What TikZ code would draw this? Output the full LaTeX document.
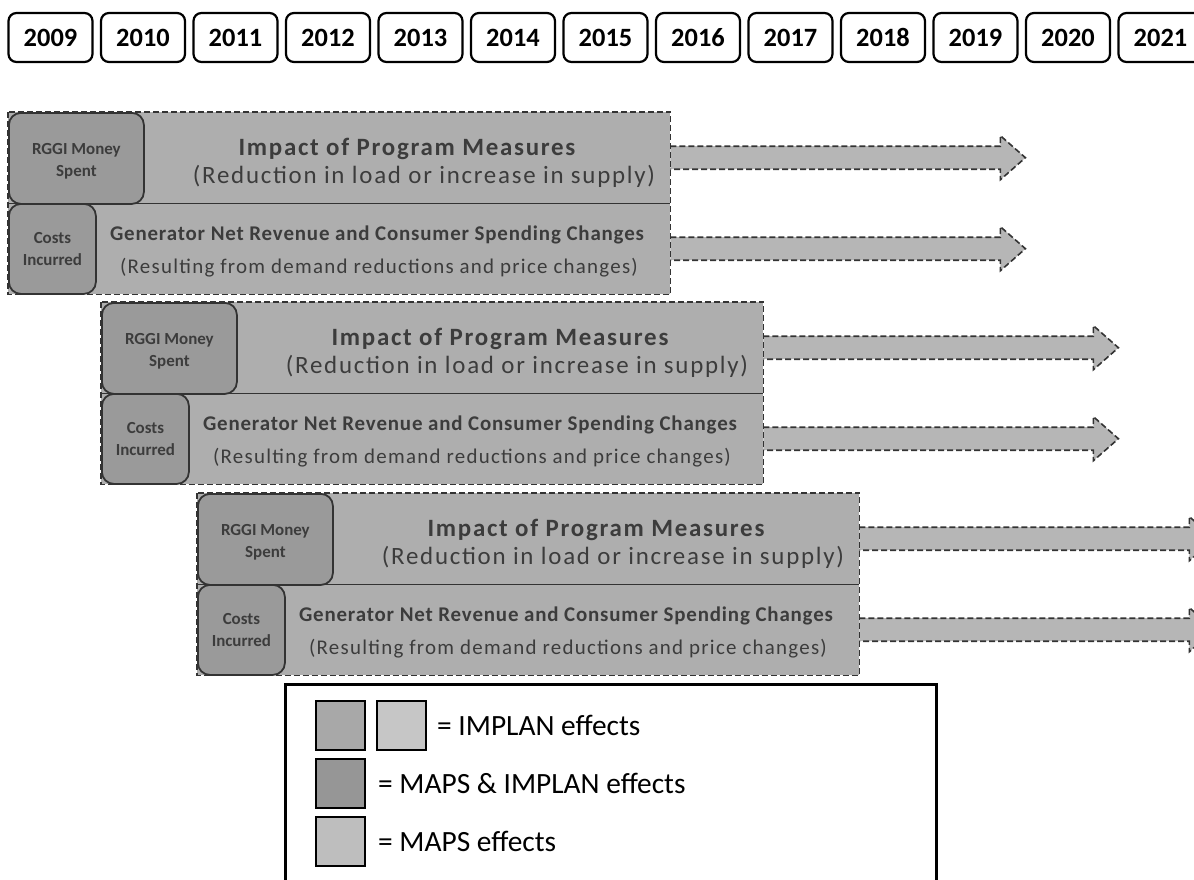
\documentclass[tikz,border=0pt]{standalone}
\usepackage{fontspec}
\setmainfont{Carlito}
\usetikzlibrary{calc}
\definecolor{bandfill}{HTML}{AEAEAE}
\definecolor{boxfill}{HTML}{9A9A9A}
\definecolor{arrowfill}{HTML}{B6B6B6}
\definecolor{edgegray}{HTML}{333333}
\definecolor{txtgray}{HTML}{3C3C3C}
\definecolor{sqA}{HTML}{A8A8A8}
\definecolor{sqB}{HTML}{C6C6C6}
\definecolor{sqC}{HTML}{969696}
\definecolor{sqD}{HTML}{BEBEBE}
\tikzset{
  yearbox/.style={draw, line width=2.2bp, rounded corners=8bp, minimum width=84bp, minimum height=49bp, inner sep=0pt, text height=17bp, text depth=0bp, font=\fontsize{26.5}{30}\selectfont\bfseries},
  rowbox/.style={fill=bandfill, minimum width=662bp, minimum height=91bp, inner sep=0pt, draw=none},
  mbox/.style={draw=edgegray, fill=boxfill, line width=1.8bp, rounded corners=12bp, inner sep=0pt},
  mtext/.style={inner sep=0pt, align=center, text=txtgray, font=\fontsize{17}{22}\selectfont\bfseries},
  bigtitle/.style={inner sep=0pt, text=txtgray, font=\fontsize{25}{28}\selectfont\bfseries\addfontfeature{LetterSpace=7}},
  bigsub/.style={inner sep=0pt, text=txtgray, font=\fontsize{25}{28}\selectfont\addfontfeature{LetterSpace=7}},
  titletext/.style={inner sep=0pt, text=txtgray, font=\fontsize{21}{24}\selectfont\bfseries\addfontfeature{LetterSpace=4}},
  subtext/.style={inner sep=0pt, text=txtgray, font=\fontsize{21}{24}\selectfont\addfontfeature{LetterSpace=6}},
  bandedge/.style={draw=edgegray, dash pattern=on 6bp off 3bp, line width=1.6bp},
  flowarrow/.style={fill=arrowfill, draw=edgegray, dash pattern=on 6bp off 3bp, line width=1.6bp},
  sq/.style={draw, line width=1.6bp, minimum size=49bp, inner sep=0pt},
  legtext/.style={inner sep=0pt, anchor=west, font=\fontsize{29.5}{32}\selectfont},
}
\begin{document}
\begin{tikzpicture}[x=1bp,y=-1bp]
\useasboundingbox (0,0) rectangle (1194,880);
\clip (0,0) rectangle (1194,880);
% year boxes
\foreach \yr [count=\i from 0] in {2009,...,2021} {
  \node[yearbox] (y\yr) at ({50.5+92.5*\i},37.5) {\yr};
}
% bands
\foreach \X/\Y/\n in {8/112/1, 101/302/2, 197/493/3} {
  \node[rowbox, anchor=north west] (t\n) at ({\X},{\Y}) {};
  \node[rowbox, anchor=north west] (b\n) at ({\X},{\Y+91}) {};
  \draw[flowarrow] (t\n.east) ++(0,-11.5) -- ++(330,0) -- ++(0,-10.5) -- ++(25,22) -- ++(-25,22) -- ++(0,-10.5) -- ++(-330,0);
  \draw[flowarrow] (b\n.east) ++(0,-11.5) -- ++(330,0) -- ++(0,-10.5) -- ++(25,22) -- ++(-25,22) -- ++(0,-10.5) -- ++(-330,0);
  \draw[bandedge] (t\n.north west) rectangle (b\n.south east);
  \draw[draw=edgegray, line width=1.6bp] (t\n.south west) -- (t\n.south east);
  \node[mbox, anchor=north west, minimum width=135bp, minimum height=91bp] (r\n) at ({\X},{\Y}) {};
  \node[mtext] (rt\n) at ($(r\n.center)+(0,2.5)$) {RGGI Money\\Spent};
  \node[mbox, anchor=north west, minimum width=87bp, minimum height=90bp] (c\n) at ({\X},{\Y+91}) {};
  \node[mtext] (ct\n) at (c\n.center) {Costs\\Incurred};
  \node[bigtitle] (i\n) at ({\X+399},{\Y+37}) {Impact of Program Measures};
  \node[bigsub] (ri\n) at ({\X+416},{\Y+64}) {(Reduction in load or increase in supply)};
  \node[titletext] (g\n) at ({\X+369},{\Y+123}) {Generator Net Revenue and Consumer Spending Changes};
  \node[subtext] (rg\n) at ({\X+371},{\Y+156}) {(Resulting from demand reductions and price changes)};
}
% legend
\node[draw, line width=3bp, anchor=north west, minimum width=651bp, minimum height=205bp, inner sep=0pt] (leg) at (284,683) {};
\node[sq, fill=sqA] (s1) at (340.5,725.5) {};
\node[sq, fill=sqB] (s2) at (401.5,725.5) {};
\node[sq, fill=sqC] (s3) at (340.5,783.5) {};
\node[sq, fill=sqD] (s4) at (340.5,841.5) {};
\node[legtext] (l1) at (437,725.5) {= IMPLAN effects};
\node[legtext] (l2) at (378,783.5) {= MAPS \& IMPLAN effects};
\node[legtext] (l3) at (378,841.5) {= MAPS effects};
\end{tikzpicture}
\end{document}
